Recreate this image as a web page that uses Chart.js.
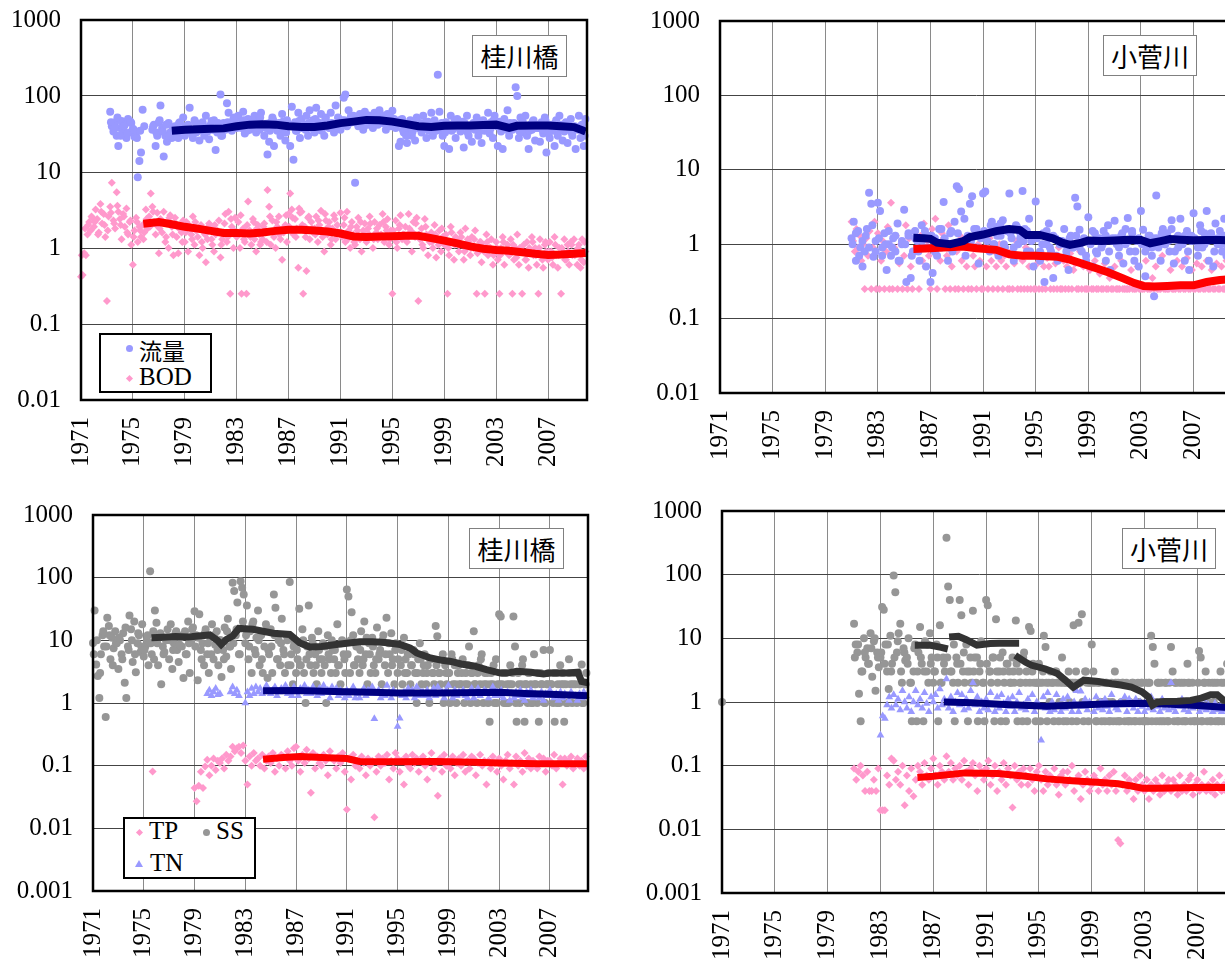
<!DOCTYPE html>
<html>
<head>
<meta charset="utf-8">
<script src="https://cdn.jsdelivr.net/npm/chart.js@4.4.1/dist/chart.umd.min.js"></script>
<style>
html, body { margin: 0; padding: 0; overflow: hidden; background: #fff; }
body { position: relative; width: 1225px; height: 959px; }
canvas { position: absolute; }
.site { position: absolute; z-index: 2; box-sizing: border-box; border: 1px solid #808080; background: #fff;
        font: 26px "Noto Sans CJK JP", sans-serif; color: #000; text-align: center; }
.legend { position: absolute; z-index: 2; box-sizing: border-box; border: 2px solid #000; background: #fff; }
.lab { position: absolute; z-index: 3; height: 30px; line-height: 30px; color: #000; white-space: nowrap; }
.serif { font: 25px "Liberation Serif", "Times New Roman", serif; }
.jp { font: 23px "Noto Sans CJK JP", sans-serif; }
.mk { position: absolute; z-index: 3; }
.dot { width: 7px; height: 7px; border-radius: 50%; }
.dia { width: 5px; height: 5px; transform: rotate(45deg); background: #ff99cc; }
.tri { width: 0; height: 0; border-left: 4px solid transparent; border-right: 4px solid transparent; border-bottom: 7px solid #9999ff; }
</style>
</head>
<body>
<canvas id="c1" width="600" height="480" style="left:0;top:0"></canvas>
<canvas id="c2" width="610" height="480" style="left:640px;top:0"></canvas>
<canvas id="c3" width="600" height="479" style="left:0;top:480px"></canvas>
<canvas id="c4" width="620" height="479" style="left:640px;top:480px"></canvas>

<div class="site" style="left:472px;top:35px;width:95px;height:42px;line-height:40px">桂川橋</div>
<div class="site" style="left:1103px;top:35px;width:94px;height:41px;line-height:39px">小菅川</div>
<div class="site" style="left:469px;top:528px;width:95px;height:41px;line-height:39px">桂川橋</div>
<div class="site" style="left:1122px;top:528px;width:94px;height:41px;line-height:39px">小菅川</div>

<div class="legend" style="left:99px;top:333px;width:113px;height:60px"></div>
<div class="mk dot" style="left:126px;top:345px;background:#9999ff"></div>
<div class="lab jp" style="left:139px;top:333px">流量</div>
<div class="mk dia" style="left:127px;top:376px"></div>
<div class="lab serif" style="left:139px;top:363px">BOD</div>

<div class="legend" style="left:123px;top:817px;width:133px;height:62px"></div>
<div class="mk dia" style="left:137px;top:830px"></div>
<div class="lab serif" style="left:149px;top:817px">TP</div>
<div class="mk dot" style="left:203px;top:829px;background:#969696"></div>
<div class="lab serif" style="left:216px;top:817px">SS</div>
<div class="mk tri" style="left:135px;top:860px"></div>
<div class="lab serif" style="left:150px;top:849px">TN</div>

<script>
// axis ticks
const yearTicks = [1971, 1975, 1979, 1983, 1987, 1991, 1995, 1999, 2003, 2007];
const decadesTop = [0.01, 0.1, 1, 10, 100, 1000];
const decadesBottom = [0.001, 0.01, 0.1, 1, 10, 100, 1000];

// 桂川橋 flow, 8 samples a year from 1973.25
const katsuraFlowStart = 1973.25;
const katsuraFlow = [
  62, 40, 34, 45, 30, 22, 38, 47,
  35, 42, 28, 50, 33, 44, 37, 29,
  33, 8.5, 14, 18, 66, 40, null, null,
  null, null, 36, 42, 22, 30, 45, 75,
  38, 16, 30, 25, 44, 33, 28, 36,
  40, 32, 28, 45, 36, 52, 30, 38,
  42, 70, 35, 28, 48, 33, 40, 26,
  38, 45, 30, 55, 34, 27, 42, 36,
  48, 19.5, 33, 40, 105, 30, 44, 36,
  80, 60, 42, 35, 50, 45, 38, 55,
  46, 38, 62, 32, 42, 50, 36, 45,
  40, 55, 33, 48, 36, 60, 42, 30,
  38, 17, 25, 45, 52, 22, 40, 35,
  44, 30, 58, 36, 26, 48, 40, 22,
  72, 14.5, 45, 35, 60, 28, 50, 38,
  42, 55, 30, 65, 38, 48, 33, 70,
  45, 36, 58, 40, 30, 52, 44, 38,
  60, 40, 33, 75, 42, 50, 36, 48,
  95, 105, 40, 65, 50, 45, 55, 7.2,
  48, 40, 58, 44, 36, 62, 50, 42,
  55, 46, 38, 60, 50, 42, 65, 48,
  44, 52, 36, 58, 47, 40, 64, 50,
  38, 45, 22, 25, 50, 33, 42, 24,
  36, 48, 30, 42, 26, 52, 38, 44,
  33, 55, 40, 28, 46, 36, 60, 30,
  48, 35, 190, 62, 42, 30, 22, 45,
  40, 20, 55, 36, 44, 28, 50, 38,
  34, 46, 21, 40, 55, 30, 38, 25,
  44, 36, 52, 30, 40, 24, 48, 35,
  38, 60, 32, 45, 28, 55, 42, 22,
  46, 34, 20, 50, 38, 65, 30, 42,
  36, 44, 130, 100, 28, 52, 40, 33,
  55, 30, 20, 42, 36, 48, 26, 40,
  38, 25, 45, 32, 52, 18, 40, 28,
  42, 35, 22, 48, 30, 55, 38, 26,
  34, 45, 24, 40, 50, 30, 36, 20,
  38, 55, 28, 42, 22, 50
];
// extra flow samples in between, 4 a year from 1973.31
const katsuraFlowExtraStart = 1973.31;
const katsuraFlowExtra = [
  45, 38, 52, 30,   40, 32, 46, 36,   28, 35, null, null,   null, 40, 33, 48,
  34, 42, 30, 38,   36, 44, 33, 40,   38, 31, 45, 35,   42, 34, 39, 47,
  36, 44, 30, 40,   45, 38, 52, 42,   40, 48, 35, 44,   46, 38, 52, 41,
  43, 35, 48, 39,   38, 46, 33, 42,   41, 35, 47, 38,   36, 44, 40, 50,
  42, 35, 48, 40,   44, 38, 52, 46,   48, 42, 55, 46,   52, 45, 40, 56,
  47, 53, 44, 58,   50, 43, 55, 46,   42, 48, 36, 30,   40, 34, 46, 38,
  38, 45, 35, 42,   40, 36, 44, 33,   42, 35, 47, 39,   38, 44, 33, 41,
  40, 46, 35, 43,   43, 37, 48, 40,   41, 46, 36, 44,   37, 42, 34, 45,
  40, 35, 46, 38,   42, 36, 47, 33,   39, 44, 35, 42,   37, 43, 33, 40,
  36, 41, 30
];

// 桂川橋 BOD, 8 samples a year from 1971
const katsuraBodStart = 1971;
const katsuraBod = [
  0.42, 0.44, 0.85, 0.8, 1.5, 2.2, 1.7, 2.5,
  1.9, 3.2, 2.4, 1.6, 3.8, 2.1, 2.8, 1.4,
  0.2, 2.6, 3.5, 7.2, 2.3, 1.8, 5.4, 3.0,
  2.4, 1.3, 2.8, 1.9, 3.3, 1.5, 2.2, 1.1,
  0.6, 1.7, 2.5, 1.2, 1.9, 1.4, 2.0, 1.6,
  3.2, 1.8, 2.6, 5.2, 3.5, 2.2, 1.5, 2.9,
  0.85, 2.4, 1.6, 3.0, 1.2, 2.1, 1.0, 2.7,
  1.9, 0.8, 2.5, 1.4, 0.85, 2.0, 1.6, 2.3,
  1.2, 2.2, 0.9, 1.8, 1.5, 2.6, 1.1, 1.7,
  1.4, 0.8, 2.0, 1.0, 1.6, 0.65, 1.3, 2.1,
  1.9, 1.1, 0.9, 1.5, 1.7, 2.3, 0.75, 1.3,
  1.6, 2.8, 1.2, 3.0, 0.25, 1.9, 1.0, 2.5,
  1.4, 2.2, 1.0, 0.25, 1.8, 1.2, 0.25, 4.1,
  1.7, 1.1, 2.4, 1.3, 0.9, 2.0, 1.5, 1.2,
  1.3, 2.1, 1.6, 5.8, 3.5, 1.1, 2.3, 1.4,
  1.0, 1.9, 2.6, 1.3, 0.7, 1.6, 2.0, 1.2,
  2.8, 5.2, 3.2, 1.5, 2.4, 1.8, 0.55, 2.9,
  3.0, 0.25, 1.9, 0.5, 2.5, 1.3, 2.2, 1.6,
  1.8, 2.6, 1.2, 2.0, 3.1, 1.4, 0.9, 2.3,
  1.5, 2.2, 1.1, 1.8, 2.7, 1.3, 2.0, 1.6,
  2.9, 1.4, 2.0, 1.2, 3.0, 1.7, 1.0, 2.2,
  1.5, 1.1, 1.9, 2.5, 1.3, 0.9, 1.7, 2.1,
  1.2, 1.8, 2.6, 1.4, 1.0, 2.2, 1.6, 1.3,
  2.0, 1.5, 2.8, 1.2, 1.9, 2.4, 1.1, 1.7,
  0.25, 1.4, 2.3, 1.0, 1.8, 2.7, 1.3, 1.5,
  1.9, 1.2, 2.8, 1.6, 0.9, 2.2, 1.4, 2.5,
  0.2, 1.3, 1.8, 1.0, 2.4, 1.5, 0.8, 1.2,
  1.6, 1.0, 2.0, 0.75, 1.3, 1.7, 0.9, 1.4,
  1.1, 1.5, 0.25, 0.8, 1.9, 1.2, 0.7, 1.4,
  1.3, 0.9, 1.6, 1.1, 0.7, 1.8, 1.0, 1.2,
  0.8, 1.4, 1.0, 1.7, 0.25, 0.9, 1.2, 0.65,
  1.1, 0.25, 1.5, 0.8, 1.0, 1.3, 0.6, 0.9,
  1.2, 0.7, 0.25, 1.0, 1.4, 0.6, 0.9, 1.1,
  0.8, 1.3, 0.25, 0.7, 1.0, 1.5, 0.6, 0.9,
  0.25, 1.1, 0.7, 1.2, 0.55, 0.9, 1.4, 0.8,
  1.0, 0.6, 0.25, 1.3, 0.8, 0.55, 1.1, 0.9,
  0.7, 1.2, 0.9, 0.6, 1.4, 0.8, 0.55, 1.0,
  0.25, 0.9, 1.3, 0.7, 1.1, 0.6, 1.2, 0.8,
  1.3, 0.9, 0.6, 1.1, 0.55, 1.3, 0.65, 0.9
];
// extra BOD samples in between, 4 a year from 1971.06
const katsuraBodExtraStart = 1971.06;
const katsuraBodExtra = [
  0.8, 1.8, 2.0, 2.6,   2.2, 1.5, 3.0, 2.0,   1.7, 2.9, 2.1, 3.6,   2.0, 2.6, 1.6, 2.3,
  1.4, 2.2, 1.7, 1.3,   2.4, 1.9, 3.0, 2.0,   1.8, 2.2, 1.4, 2.5,   1.5, 2.1, 1.8, 1.2,
  1.6, 2.0, 1.3, 2.2,   1.8, 1.2, 1.5, 1.9,   1.3, 2.0, 1.6, 1.1,   2.1, 1.4, 2.4, 1.7,
  1.6, 2.7, 1.3, 2.0,   1.4, 2.2, 1.8, 1.1,   1.9, 1.2, 2.6, 1.6,   2.2, 1.5, 1.8, 2.7,
  1.9, 2.5, 1.4, 3.3,   2.0, 1.4, 2.6, 1.8,   1.5, 2.3, 1.7, 2.8,   1.9, 1.3, 2.4, 1.6,
  1.6, 2.5, 1.3, 1.9,   1.2, 1.7, 2.2, 1.4,   1.6, 2.1, 1.3, 1.8,   1.4, 2.2, 1.7, 1.3,
  1.7, 1.2, 2.0, 1.5,   1.3, 1.8, 1.6, 2.1,   1.5, 1.1, 1.9, 1.4,   1.2, 1.5, 1.1, 1.8,
  1.3, 1.0, 1.6, 1.1,   1.1, 1.4, 0.9, 1.3,   1.0, 1.3, 0.85, 1.2,  0.9, 1.2, 1.0, 0.8,
  1.0, 0.8, 1.2, 0.9,   0.85, 1.1, 0.75, 1.0, 0.9, 0.7, 1.0, 1.2,   0.8, 1.0, 0.7, 1.2,
  0.9, 0.75, 1.1, 0.8,  1.0, 0.7, 0.9, 1.1,   0.8, 1.0, 0.7, 1.2
];

// 桂川橋 running trends [year, value]
const katsuraFlowTrend = [[1978, 35], [1979, 36], [1980, 36.5], [1981, 37], [1982, 37.5], [1983, 40], [1984, 42],
  [1985, 42.5], [1986, 42], [1987, 40], [1988, 39], [1989, 39], [1990, 41], [1991, 44], [1992, 46], [1993, 48.5],
  [1994, 48], [1995, 46], [1996, 43], [1997, 40], [1998, 39], [1999, 40.5], [2000, 41], [2001, 41], [2002, 41.5],
  [2003, 42], [2004, 38], [2004.6, 40.5], [2006, 41], [2007, 41], [2008, 40], [2009, 39], [2009.9, 34]];
const katsuraBodTrend = [[1975.8, 2.08], [1977, 2.2], [1978, 2.05], [1979, 1.9], [1980, 1.8], [1981, 1.68], [1982, 1.58],
  [1983, 1.57], [1984, 1.55], [1985, 1.6], [1986, 1.68], [1987, 1.74], [1988, 1.74], [1989, 1.7], [1990, 1.65],
  [1991, 1.55], [1992, 1.42], [1993, 1.4], [1994, 1.42], [1995, 1.43], [1996, 1.45], [1997, 1.45], [1998, 1.35],
  [1999, 1.25], [2000, 1.15], [2001, 1.05], [2002, 0.98], [2003, 0.94], [2004, 0.92], [2005, 0.88], [2006, 0.84],
  [2007, 0.81], [2008, 0.82], [2009, 0.84], [2009.9, 0.86]];

// 小菅川 flow, 6 samples a year from 1981
const kosugeFlowStart = 1981;
const kosugeFlow = [
  1.2, 2.0, 0.6, 1.5, 0.9, 0.5,
  0.8, 1.6, 4.9, 3.5, 0.68, 1.1,
  3.6, 2.8, 0.9, 1.4, 0.45, 1.0,
  0.7, 1.2, 0.8, 1.9, 0.6, 1.0,
  2.9, 0.31, 1.3, 0.35, 0.8, 1.5,
  1.1, 0.6, 1.8, 0.9, 0.5, 1.3,
  0.31, 0.41, 1.2, 0.7, 1.6, 0.9,
  3.7, 1.0, 0.6, 1.4, 0.8, 2.0,
  6.0, 5.5, 2.75, 1.1, 0.7, 1.3,
  3.5, 4.4, 0.9, 1.6, 0.55, 1.2,
  4.8, 5.1, 1.4, 0.8, 2.0, 1.0,
  1.7, 0.7, 1.3, 2.1, 0.9, 1.5,
  4.8, 1.2, 0.6, 1.8, 1.0, 1.4,
  5.2, 1.6, 0.8, 2.2, 1.1, 0.5,
  3.75, 1.3, 0.6, 1.0, 0.31, 1.5,
  1.9, 0.8, 0.35, 1.2, 0.6, 1.0,
  1.1, 1.6, 0.7, 0.45, 1.3, 0.9,
  4.2, 3.2, 1.56, 0.8, 1.2, 0.6,
  2.3, 1.0, 0.5, 1.4, 0.75, 1.1,
  0.9, 1.5, 0.6, 1.8, 0.45, 1.2,
  2.06, 1.0, 0.7, 1.3, 0.55, 1.6,
  2.25, 0.8, 1.4, 0.6, 1.1, 0.5,
  2.8, 1.56, 0.37, 0.9, 1.3, 0.7,
  0.2, 4.5, 1.2, 0.6, 1.6, 1.0,
  1.4, 0.8, 2.1, 0.55, 1.2, 0.9,
  2.2, 1.0, 0.6, 1.5, 0.45, 1.3,
  2.6, 1.1, 0.7, 1.8, 0.9, 1.4,
  2.8, 0.6, 1.3, 0.5, 1.9, 1.0,
  1.5, 0.8, 2.2, 0.7, 1.2, 0.9
];
// extra flow samples in between, 4 a year from 1981.08
const kosugeFlowExtraStart = 1981.08;
const kosugeFlowExtra = [
  1.0, 1.4, 0.7, 1.1,   1.3, 0.9, 1.8, 0.8,   1.2, 0.7, 1.0, 1.5,   0.9, 1.3, 0.6, 1.1,
  1.0, 1.4, 0.7, 1.2,   0.8, 1.1, 1.5, 0.9,   1.3, 0.8, 1.0, 1.6,   1.2, 0.9, 1.5, 1.0,
  1.4, 1.0, 2.2, 1.2,   1.1, 1.6, 0.9, 1.3,   1.5, 1.1, 1.8, 1.0,   1.3, 1.9, 1.0, 1.6,
  1.4, 0.9, 1.7, 1.2,   1.1, 1.5, 0.8, 1.3,   1.2, 0.8, 1.4, 1.0,   0.9, 1.3, 0.7, 1.1,
  1.0, 0.8, 1.2, 0.9,   1.3, 0.9, 1.1, 0.7,   1.1, 1.5, 0.8, 1.2,   1.0, 1.3, 0.8, 1.1,
  1.2, 0.9, 1.4, 1.0,   1.1, 1.5, 0.8, 1.2,   1.0, 0.8, 1.3, 0.9,   1.2, 0.9, 1.4, 1.0,
  1.1, 1.6, 0.8, 1.3,   1.0, 1.3, 0.8, 1.1,   1.2, 0.9, 1.5, 1.0,   1.1, 1.4, 0.8, 1.2,
  1.0, 1.3, 0.9, 1.1
];

// 小菅川 BOD, 8 samples a year from 1981 (0.25 = below limit)
const kosugeBodStart = 1981;
const kosugeBod = [
  2.0, 1.1, 0.8, 1.6, 0.9, 1.3, 0.6, 1.0,
  0.25, 1.2, 0.7, 1.5, 0.25, 0.9, 2.0, 0.25,
  1.4, 0.25, 0.6, 1.1, 0.25, 0.8, 1.7, 0.25,
  3.6, 0.25, 0.9, 1.3, 0.25, 0.55, 1.0, 0.25,
  0.7, 1.8, 0.25, 1.2, 0.5, 0.25, 1.5, 0.8,
  0.9, 0.25, 1.3, 0.6, 1.9, 0.5, 1.1, 0.7,
  0.25, 1.6, 0.8, 2.2, 0.25, 1.0, 0.6, 1.4,
  1.2, 0.25, 0.7, 1.8, 0.25, 0.5, 1.0, 0.25,
  0.8, 0.25, 1.3, 0.6, 0.25, 0.9, 0.5, 0.25,
  1.1, 0.25, 0.7, 0.5, 0.25, 1.0, 0.6, 0.25,
  0.25, 0.9, 0.5, 0.25, 1.2, 0.6, 0.25, 0.8,
  0.5, 0.25, 1.0, 0.6, 0.25, 0.7, 0.5, 0.25,
  0.25, 0.8, 0.25, 0.55, 1.1, 0.25, 0.7, 0.25,
  0.6, 0.25, 0.9, 0.25, 0.5, 0.25, 0.75, 0.25,
  0.25, 0.55, 0.25, 0.8, 0.25, 0.5, 0.25, 0.65,
  0.5, 0.25, 0.7, 0.25, 0.55, 0.25, 0.9, 0.25,
  0.25, 0.6, 0.25, 0.5, 0.25, 0.75, 0.25, 0.45,
  0.55, 0.25, 0.25, 0.8, 0.25, 0.5, 0.25, 0.25,
  0.25, 0.45, 0.25, 0.25, 0.6, 0.25, 0.25, 0.4,
  0.25, 0.25, 0.55, 0.25, 0.25, 0.35, 0.25, 0.25,
  0.5, 0.25, 0.25, 0.25, 0.6, 0.25, 0.25, 0.25,
  0.25, 0.25, 0.45, 0.25, 0.25, 0.25, 0.5, 0.25,
  0.25, 0.25, 0.25, 0.6, 0.25, 0.25, 0.25, 0.35,
  0.25, 0.5, 0.25, 0.25, 0.25, 0.7, 0.25, 0.25,
  0.25, 0.25, 0.45, 0.25, 0.25, 0.25, 0.6, 0.25,
  0.25, 0.5, 0.25, 0.25, 0.65, 0.25, 0.25, 0.45,
  0.25, 0.25, 0.55, 0.25, 0.25, 0.5, 0.25, 0.25,
  0.6, 0.25, 0.25, 0.45, 0.25, 0.25, 0.55, 0.25,
  0.25, 0.5, 0.25, 0.25, 0.6, 0.25, 0.25, 0.45
];

const kosugeFlowTrend = [[1985.7, 1.22], [1986.5, 1.2], [1987, 1.18], [1987.5, 1.05], [1988.5, 1.0], [1989.5, 1.1],
  [1990, 1.25], [1991, 1.35], [1992, 1.5], [1993, 1.6], [1993.8, 1.55], [1994.3, 1.33], [1995.3, 1.33], [1996.3, 1.2],
  [1997, 1.05], [1997.6, 0.98], [1998.5, 1.05], [1999, 1.12], [2000, 1.1], [2001, 1.12], [2002, 1.15], [2003, 1.14],
  [2003.7, 1.03], [2004.5, 1.1], [2005.2, 1.17], [2006, 1.15], [2007, 1.13], [2008, 1.14], [2009, 1.14], [2010, 1.12]];
const kosugeBodTrend = [[1985.7, 0.86], [1987, 0.88], [1988, 0.9], [1989.5, 0.93], [1990.5, 0.88], [1992, 0.84],
  [1993, 0.73], [1994, 0.7], [1995, 0.7], [1996.6, 0.68], [1997.6, 0.62], [1998.5, 0.55], [1999.6, 0.475],
  [2000.5, 0.42], [2001.6, 0.35], [2002.5, 0.3], [2003.2, 0.275], [2004, 0.27], [2005, 0.275], [2006, 0.28],
  [2007, 0.28], [2008, 0.31], [2009, 0.33], [2010, 0.34]];

// 桂川橋 SS, 8 samples a year from 1971
const katsuraSSStart = 1971;
const katsuraSS = [
  9.1, 30, 4.1, 2.7, 1.2, 6.0, 12, 8.0,
  0.6, 23, 17, 5.0, 11, 7.5, 14, 9.0,
  3.5, 10, 6.0, 13, 2.1, 1.2, 8.0, 25,
  15, 4.5, 20, 3.1, 9.0, 12, 6.5, 18,
  5.5, 8.0, 10, 4.0, 127, 6.0, 14, 30,
  19, 4.0, 12, 2.0, 8.0, 6.5, 10, 15,
  5.0, 18, 3.5, 9.0, 13, 7.0, 4.5, 11,
  8.0, 2.5, 14, 6.0, 20, 3.0, 10, 16,
  29, 12, 2.3, 26, 7.0, 9.0, 4.0, 15,
  6.0, 3.0, 11, 18, 5.0, 8.5, 14, 4.0,
  10, 2.6, 7.0, 16, 5.5, 22, 8.0, 3.5,
  83, 61, 12, 40, 6.0, 88, 69, 54,
  9.0, 36, 5.0, 14, 3.0, 20, 7.0, 11,
  30, 4.0, 12, 3.0, 8.0, 18, 2.5, 6.0,
  15, 3.0, 54, 33, 5.0, 10, 4.0, 22,
  7.0, 3.0, 12, 4.0, 85, 6.0, 2.0, 9.0,
  3.0, 5.0, 32, 4.0, 15, 3.0, 1.0, 8.0,
  36, 4.0, 11, 3.0, 6.0, 2.0, 14, 5.0,
  3.0, 9.0, 4.0, 1.0, 12, 5.0, 3.0, 7.0,
  5.0, 3.0, 18, 4.0, 2.0, 10, 6.0, 3.0,
  65, 50, 3.0, 28, 12, 4.0, 8.0, 5.0,
  3.0, 14, 4.0, 20, 6.0, 2.0, 9.0, 3.0,
  11, 4.0, 3.0, 16, 5.0, 7.0, 2.0, 12,
  4.0, 23, 3.0, 6.0, 13, 5.0, 2.0, 9.0,
  3.0, 8.0, 4.0, 2.0, 11, 5.0, 3.0, 6.0,
  2.0, 4.0, 7.0, 3.0, 1.0, 5.0, 9.0, 2.0,
  3.0, 6.0, 2.0, 4.0, 1.0, 5.0, 3.0, 2.0,
  17, 11.6, 3.0, 2.0, 5.0, 1.0, 4.0, 2.0,
  3.0, 1.0, 6.0, 2.0, 4.0, 1.0, 3.0, 2.0,
  2.0, 5.0, 1.0, 3.0, 2.0, 8.0, 1.0, 3.0,
  14, 2.0, 1.0, 4.0, 2.0, 6.0, 1.0, 3.0,
  2.0, 1.0, 0.5, 3.0, 2.0, 1.0, 5.0, 2.0,
  26, 24, 2.0, 1.0, 3.0, 2.0, 1.0, 4.0,
  2.0, 24, 8.0, 0.5, 3.0, 1.0, 2.0, 5.0,
  0.5, 2.0, 1.0, 3.0, 2.0, 1.0, 6.0, 2.0,
  1.0, 0.5, 3.0, 2.0, 7.0, 1.0, 2.0, 3.0,
  7.0, 2.0, 1.0, 0.5, 3.0, 2.0, 1.0, 2.0,
  3.0, 0.5, 2.0, 1.0, 5.0, 2.0, 1.0, 3.0,
  2.0, 1.0, 3.0, 2.0, 4.1, 1.0, 2.0, 3.0
];
// extra SS samples in between, 4 a year from 1971.06
const katsuraSSExtraStart = 1971.06;
const katsuraSSExtra = [
  6.0, 10, 3.0, 14,   8.0, 12, 4.0, 9.0,   11, 5.0, 16, 7.0,   10, 6.0, 13, 8.0,
  7.0, 12, 9.0, 5.0,  9.0, 13, 6.0, 11,    10, 7.0, 14, 8.5,   12, 6.0, 9.0, 15,
  8.0, 11, 5.0, 13,   9.0, 6.0, 12, 7.0,   10, 5.0, 14, 8.0,   9.0, 15, 6.0, 20,
  12, 8.0, 18, 6.0,   10, 5.0, 14, 7.0,    8.0, 12, 5.0, 9.0,  6.0, 10, 4.0, 8.0,
  7.0, 4.0, 10, 5.0,  6.0, 9.0, 4.0, 7.0,  5.0, 8.0, 6.0, 10,  7.0, 4.0, 9.0, 5.0,
  6.0, 10, 4.0, 8.0,  7.0, 5.0, 11, 6.0,   8.0, 5.0, 6.0, 10,  6.0, 9.0, 4.0, 7.0,
  5.0, 7.0, 3.0, 6.0, 4.0, 6.0, 3.0, 5.0,  4.0, 3.0, 5.0, 3.0, 4.0, 3.0, 6.0, 3.0,
  3.0, 5.0, 2.0, 4.0, 3.0, 2.0, 4.0, 3.0,  2.0, 3.0, 5.0, 2.0, 3.0, 2.0, 4.0, 1.0,
  2.0, 3.0, 1.0, 2.0, 3.0, 1.0, 2.0, 4.0,  2.0, 3.0, 1.0, 2.0, 3.0, 2.0, 1.0, 2.0,
  2.0, 3.0, 1.0, 4.0, 2.0, 1.0, 3.0, 2.0,  3.0, 2.0, 1.0, 2.0
];

// 桂川橋 TN, 6 samples a year from 1980
const katsuraTNStart = 1980;
const katsuraTN = [
  1.4, 1.6, 1.3, 1.5, 1.7, 1.35,
  1.4, null, null, null, null, 1.5,
  1.8, 1.4, 1.6, 1.3, null, null,
  1.0, 1.5, 1.3, 1.7, 1.4, 1.8,
  1.5, 1.7, 1.4, 1.6, 1.9, 1.5,
  1.4, 1.6, 1.8, 1.3, 1.5, 1.7,
  1.6, 1.9, 1.4, 1.5, 1.3, 1.8,
  1.5, 1.3, 1.7, 1.6, 1.9, 1.4,
  1.6, 1.4, 1.8, 1.5, 1.3, 1.7,
  1.4, 1.9, 1.5, 1.6, 1.2, 1.8,
  1.5, 1.7, 1.3, 1.6, 1.4, 1.2,
  1.6, 1.3, 1.5, 1.8, 1.2, 1.4,
  1.2, 1.5, 1.7, 1.3, 1.6, 1.4,
  1.8, 0.56, 1.4, 1.6, 1.2, 1.5,
  1.3, 1.9, 1.5, 1.2, 1.6, 1.4,
  0.42, 0.57, 1.3, 1.5, 1.2, 1.7,
  1.4, 1.6, 1.2, 1.8, 1.3, 1.5,
  1.5, 1.3, 1.6, 1.2, 1.4, 1.7,
  1.3, 1.8, 1.4, 1.5, 1.2, 1.6,
  1.9, 1.4, 1.2, 1.6, 1.3, 1.5,
  1.4, 1.6, 1.3, 1.2, 1.5, 1.7,
  1.2, 1.5, 1.7, 1.3, 1.4, 1.6,
  1.5, 1.2, 1.4, 1.8, 1.3, 1.5,
  1.3, 1.6, 1.2, 1.4, 1.5, 1.1,
  1.4, 1.2, 1.5, 1.3, 1.6, 1.2,
  1.1, 1.5, 1.3, 1.6, 1.2, 1.4,
  1.3, 1.2, 1.5, 1.1, 1.4, 1.3,
  1.6, 1.3, 1.2, 1.4, 1.1, 1.5,
  1.2, 1.4, 1.3, 1.1, 1.5, 1.3,
  1.3, 1.1, 1.4, 1.2, 1.5, 1.3
];

// 桂川橋 TP, 6 samples a year from 1979, plus one early sample
const katsuraTPEarly = [[1975.7, 0.081]];
const katsuraTPStart = 1979;
const katsuraTP = [
  0.044, 0.027, 0.048, 0.08, 0.044, 0.097,
  0.124, 0.07, 0.1, 0.13, 0.085, 0.12,
  0.11, 0.13, 0.09, 0.15, 0.12, 0.14,
  0.2, 0.17, 0.19, 0.2, 0.16, 0.21,
  0.12, 0.05, 0.14, 0.1, 0.16, 0.12,
  0.13, 0.1, 0.15, 0.09, 0.12, 0.14,
  0.11, 0.16, 0.08, 0.13, 0.1, 0.15,
  0.14, 0.09, 0.17, 0.12, 0.1, 0.19,
  0.2, 0.12, 0.08, 0.15, 0.11, 0.18,
  0.13, 0.037, 0.16, 0.09, 0.14, 0.11,
  0.1, 0.15, 0.12, 0.07, 0.17, 0.13,
  0.12, 0.09, 0.14, 0.11, 0.16, 0.08,
  0.02, 0.13, 0.06, 0.15, 0.1, 0.12,
  0.09, 0.14, 0.11, 0.07, 0.13, 0.1,
  0.12, 0.015, 0.08, 0.14, 0.1, 0.13,
  0.11, 0.15, 0.06, 0.12, 0.09, 0.16,
  0.13, 0.08, 0.12, 0.05, 0.14, 0.1,
  0.09, 0.15, 0.11, 0.13, 0.08, 0.12,
  0.14, 0.1, 0.06, 0.12, 0.16, 0.09,
  0.11, 0.033, 0.13, 0.08, 0.15, 0.1,
  0.12, 0.09, 0.14, 0.07, 0.11, 0.13,
  0.1, 0.15, 0.08, 0.12, 0.09, 0.14,
  0.13, 0.07, 0.11, 0.15, 0.1, 0.12,
  0.05, 0.12, 0.09, 0.14, 0.11, 0.08,
  0.13, 0.1, 0.06, 0.12, 0.15, 0.09,
  0.11, 0.05, 0.14, 0.1, 0.12, 0.08,
  0.16, 0.1, 0.13, 0.09, 0.12, 0.11,
  0.09, 0.14, 0.11, 0.13, 0.08, 0.12,
  0.12, 0.1, 0.15, 0.09, 0.11, 0.13,
  0.05, 0.13, 0.1, 0.12, 0.14, 0.09,
  0.11, 0.13, 0.1, 0.12, 0.09, 0.14
];

const katsuraSSTrend = [[1975.6, 11], [1976.5, 11.2], [1977.5, 11.5], [1978.5, 11.3], [1979.5, 11.8], [1980.2, 12.2],
  [1980.8, 10], [1981.1, 8.6], [1981.5, 10.3], [1982, 11.7], [1982.5, 15.5], [1983.6, 15], [1985.2, 13],
  [1986.5, 12.4], [1987.3, 9.1], [1988.1, 7.8], [1989, 8], [1990, 8.5], [1991, 9], [1992, 9.5], [1993, 9.5],
  [1994, 9.2], [1995.2, 8.6], [1996, 7.5], [1996.5, 6.3], [1997.5, 5.3], [1998.5, 4.8], [1999.2, 4.6], [2000, 4.2],
  [2001, 3.9], [2002, 3.4], [2003.1, 3.0], [2003.6, 3.0], [2004.4, 3.2], [2005.5, 3.1], [2006.5, 2.9], [2007, 3.0],
  [2008.4, 3.0], [2009.2, 3.1], [2009.5, 2.2], [2010, 2.1]];
const katsuraTNTrend = [[1984.4, 1.57], [1987, 1.58], [1990, 1.52], [1993, 1.48], [1995, 1.45], [1998, 1.45],
  [2000, 1.46], [2003, 1.48], [2005, 1.42], [2007, 1.38], [2009, 1.33], [2010, 1.31]];
const katsuraTPTrend = [[1984.4, 0.127], [1986, 0.135], [1987.3, 0.14], [1989, 0.135], [1991, 0.13], [1992, 0.117],
  [1995, 0.115], [1998, 0.117], [2001, 0.113], [2003, 0.11], [2006, 0.107], [2010, 0.107]];

// 小菅川 SS, 8 samples a year from 1981, plus one 1971 sample
const kosugeSSEarly = [[1971, 1.0]];
const kosugeSSStart = 1981;
const kosugeSS = [
  17, 8.0, 6.0, 1.35, 0.5, 3.0, 10, 5.0,
  7.0, 4.0, 12, 2.5, 9.0, 1.5, 6.0, 3.5,
  5.0, 31, 28, 8.0, 3.0, 1.6, 11, 4.0,
  97, 53, 6.0, 12, 17, 2.0, 7.0, 4.5,
  5.0, 10, 2.0, 0.5, 3.0, 8.0, 0.5, 6.0,
  15, 4.0, 0.5, 9.0, 3.0, 2.0, 12, 5.0,
  2.0, 3.0, 8.0, 0.5, 16, 2.0, 5.0, 3.0,
  380, 65, 40, 3.0, 2.0, 0.5, 5.0, 2.0,
  40, 23, 3.0, 2.0, 8.0, 0.5, 3.0, 2.0,
  27, 5.0, 2.0, 0.5, 3.0, 9.0, 2.0, 0.5,
  40, 33, 3.0, 2.0, 5.0, 0.5, 20, 2.0,
  3.0, 0.5, 6.0, 2.0, 0.5, 4.0, 3.0, 2.0,
  5.0, 2.0, 19, 0.5, 3.0, 2.0, 0.5, 6.0,
  2.0, 0.5, 15, 13, 3.0, 2.0, 0.5, 2.0,
  4.0, 0.5, 2.0, 11, 7.3, 0.5, 2.0, 3.0,
  2.0, 0.5, 3.0, 2.0, 0.5, 2.0, 5.0, 0.5,
  2.0, 0.5, 3.0, 2.0, 0.5, 16, 2.0, 0.5,
  17.5, 2.0, 24, 0.5, 3.0, 2.0, 0.5, 2.0,
  8.0, 3.0, 2.0, 0.5, 2.0, 1.0, 0.5, 2.0,
  0.5, 2.0, 1.0, 0.5, 2.0, 0.5, 3.0, 0.5,
  2.0, 0.5, 1.0, 2.0, 0.5, 2.0, 0.5, 1.0,
  0.5, 2.0, 0.5, 1.0, 2.0, 0.5, 2.0, 0.5,
  0.5, 2.0, 0.5, 2.0, 11, 7.3, 4.0, 0.5,
  2.0, 0.5, 2.0, 1.0, 0.5, 2.0, 0.5, 2.0,
  7.3, 3.0, 0.5, 2.0, 0.5, 2.0, 1.0, 0.5,
  2.0, 0.5, 4.0, 2.0, 0.5, 2.0, 0.5, 1.0,
  0.5, 6.3, 5.0, 0.5, 2.0, 3.0, 0.5, 2.0,
  0.5, 2.0, 1.0, 0.5, 2.0, 0.5, 3.0, 0.5,
  2.0, 0.5, 4.0, 0.5, 2.0, 1.0, 0.5, 2.0
];
// extra SS samples in between, 4 a year from 1981.06
const kosugeSSExtraStart = 1981.06;
const kosugeSSExtra = [
  5.0, 8.0, 3.0, 6.0,  4.0, 7.0, 10, 5.0,   6.0, 4.0, 8.0, 3.0,  5.0, 9.0, 3.0, 6.0,
  4.0, 2.0, 7.0, 3.0,  5.0, 3.0, 8.0, 4.0,  3.0, 5.0, 2.0, 4.0,  5.0, 3.0, 8.0, 4.0,
  4.0, 6.0, 3.0, 5.0,  3.0, 5.0, 4.0, 2.0,  4.0, 3.0, 5.0, 3.0,  5.0, 3.0, 4.0, 2.0,
  3.0, 4.0, 2.0, 5.0,  3.0, 2.0, 4.0, 2.0,  2.0, 3.0, 2.0, 1.0,  2.0, 3.0, 1.0, 2.0,
  2.0, 1.0, 2.0, 3.0,  2.0, 1.0, 3.0, 2.0,  2.0, 0.5, 2.0, 1.0,  2.0, 0.5, 1.0, 2.0,
  0.5, 2.0, 1.0, 0.5,  2.0, 0.5, 1.0, 2.0,  0.5, 2.0, 0.5, 1.0,  2.0, 0.5, 2.0, 0.5,
  1.0, 2.0, 0.5, 2.0,  0.5, 2.0, 1.0, 0.5,  2.0, 0.5, 2.0, 1.0,  0.5, 2.0, 0.5, 2.0,
  1.0, 0.5, 2.0, 0.5
];

// 小菅川 TN, 6 samples a year from 1983
const kosugeTNStart = 1983;
const kosugeTN = [
  0.3, 0.6, 0.55, 0.9, 1.2, 0.8,
  1.3, 0.9, 1.1, 0.75, 1.5, 1.0,
  0.8, 1.2, 0.7, 1.0, 1.5, 0.9,
  1.1, 0.8, 1.4, 0.95, 0.7, 1.2,
  1.0, 1.3, 0.8, 1.6, 0.9, 1.1,
  2.3, 0.8, 1.2, 0.7, 1.0, 1.4,
  0.9, 1.3, 0.75, 1.1, 0.8, 1.5,
  2.0, 0.9, 1.2, 0.7, 1.0, 0.8,
  1.1, 0.75, 1.4, 0.9, 0.7, 1.2,
  0.8, 1.3, 0.95, 0.7, 1.1, 0.85,
  1.2, 0.7, 1.0, 1.4, 0.8, 0.9,
  0.75, 1.1, 0.85, 1.3, 0.7, 1.0,
  0.9, 0.25, 1.2, 0.8, 1.4, 0.7,
  1.0, 0.75, 1.3, 0.85, 0.7, 1.1,
  0.8, 1.2, 0.9, 0.7, 1.0, 1.5,
  0.7, 1.47, 0.85, 1.1, 0.75, 1.0,
  0.9, 0.7, 1.2, 0.8, 1.0, 0.75,
  1.1, 0.85, 0.7, 1.3, 0.9, 0.8,
  0.75, 1.0, 0.9, 1.2, 0.7, 1.1,
  0.9, 0.8, 1.1, 0.7, 1.0, 0.85,
  0.7, 1.0, 0.8, 1.2, 0.75, 0.9,
  0.85, 0.7, 1.1, 0.8, 0.95, 0.75,
  2.0, 0.8, 0.7, 1.0, 0.85, 1.1,
  0.75, 0.9, 0.7, 1.0, 0.8, 0.85,
  0.9, 0.7, 0.8, 1.1, 0.75, 0.9,
  0.8, 0.7, 0.95, 0.75, 0.85, 0.7,
  0.75, 0.85, 0.7, 0.9, 0.8, 0.75
];

// 小菅川 TP, 6 samples a year from 1981
const kosugeTPStart = 1981;
const kosugeTP = [
  0.09, 0.06, 0.08, 0.1, 0.07, 0.04,
  0.08, 0.04, 0.04, 0.06, 0.04, 0.09,
  0.02, 0.02, 0.02, 0.07, 0.05, 0.13,
  0.12, 0.06, 0.08, 0.05, 0.1, 0.024,
  0.07, 0.04, 0.09, 0.033, 0.06, 0.1,
  0.08, 0.05, 0.11, 0.07, 0.06, 0.09,
  0.13, 0.07, 0.05, 0.1, 0.08, 0.06,
  0.14, 0.08, 0.11, 0.06, 0.09, 0.07,
  0.1, 0.06, 0.12, 0.08, 0.05, 0.09,
  0.11, 0.07, 0.04, 0.1, 0.08, 0.06,
  0.09, 0.12, 0.05, 0.07, 0.1, 0.04,
  0.08, 0.06, 0.11, 0.05, 0.09, 0.07,
  0.022, 0.1, 0.06, 0.08, 0.05, 0.09,
  0.07, 0.05, 0.09, 0.06, 0.04, 0.08,
  0.1, 0.06, 0.04, 0.08, 0.05, 0.07,
  0.06, 0.09, 0.05, 0.035, 0.07, 0.08,
  0.05, 0.08, 0.06, 0.1, 0.04, 0.06,
  0.07, 0.03, 0.05, 0.08, 0.06, 0.04,
  0.05, 0.07, 0.06, 0.04, 0.09, 0.05,
  0.06, 0.04, 0.07, 0.05, 0.08, 0.04,
  0.0068, 0.006, 0.05, 0.07, 0.04, 0.06,
  0.05, 0.03, 0.06, 0.04, 0.07, 0.05,
  0.04, 0.06, 0.03, 0.05, 0.04, 0.06,
  0.05, 0.035, 0.07, 0.04, 0.05, 0.06,
  0.04, 0.06, 0.05, 0.035, 0.07, 0.04,
  0.05, 0.04, 0.06, 0.07, 0.035, 0.05,
  0.06, 0.04, 0.05, 0.08, 0.04, 0.05,
  0.04, 0.06, 0.035, 0.05, 0.07, 0.04,
  0.05, 0.04, 0.06, 0.035, 0.05, 0.07
];

// [year, null] breaks the line
const kosugeSSTrend = [[1985.6, 7.8], [1986.8, 7.8], [1987.6, 7.2], [1988.1, 6.8], [1988.1, null],
  [1988.2, 10.5], [1988.9, 10.8], [1989.5, 9.5], [1990.3, 7.8], [1991.3, 8.3], [1992, 8.4], [1993.5, 8.4], [1993.5, null],
  [1993.2, 5.4], [1994, 4.2], [1994.4, 3.8], [1995.5, 3.3], [1996.4, 2.8], [1997, 2.2], [1997.6, 1.7], [1998.4, 2.2],
  [1999.5, 2.1], [2000.5, 1.94], [2001.2, 1.85], [2002, 1.72], [2002.8, 1.45], [2003.3, 1.2], [2003.6, 0.89],
  [2004, 1.0], [2004.5, 1.02], [2005.5, 1.03], [2006.5, 1.06], [2007.3, 1.15], [2008, 1.3], [2008.5, 1.3],
  [2009, 1.06], [2010, 0.95]];
const kosugeTNTrend = [[1987.8, 1.0], [1990, 0.97], [1992, 0.92], [1995.6, 0.86], [1998, 0.9], [2000, 0.93],
  [2003, 0.96], [2005, 0.92], [2007, 0.88], [2009, 0.83], [2010, 0.81]];
const kosugeTPTrend = [[1985.8, 0.065], [1987, 0.068], [1989.4, 0.077], [1991.9, 0.075], [1994, 0.068],
  [1995.6, 0.062], [1997.5, 0.058], [1999.4, 0.055], [2001, 0.052], [2002, 0.048], [2002.9, 0.044], [2004, 0.044],
  [2005.9, 0.045], [2008, 0.046], [2010, 0.045]];

const FLOW = '#9999ff', PINK = '#ff99cc', GREY = '#969696';
const NAVY = '#000080', RED = '#ff0000', DARK = '#333333';
const SERIF = '"Liberation Serif", "Times New Roman", serif';

function sampled(values, start, perYear) {
  return values.map((v, i) => ({ x: start + i / perYear, y: v })).filter(p => p.y !== null);
}
function pairs(list) {
  return list.map(p => ({ x: p[0], y: p[1] }));
}

function dots(data, color, style, radius) {
  return { type: 'scatter', data, showLine: false, pointStyle: style, pointRadius: radius,
    pointBackgroundColor: color, pointBorderWidth: 0, clip: 5 };
}
function trend(data, color, width) {
  return { type: 'line', data: pairs(data), borderColor: color, borderWidth: width, pointRadius: 0,
    tension: 0, spanGaps: false, borderJoinStyle: 'miter', fill: false };
}

const framePlugin = {
  id: 'frame',
  afterDatasetsDraw(chart) {
    const { ctx, chartArea: a } = chart;
    ctx.save();
    ctx.strokeStyle = '#000';
    ctx.lineWidth = 2.5;
    ctx.strokeRect(a.left, a.top, a.right - a.left, a.bottom - a.top);
    ctx.restore();
  }
};

// label gaps come from invisible tick marks so the axis padding stays small
function makePanel(id, box, decades, datasets) {
  new Chart(document.getElementById(id), {
    type: 'scatter',
    data: { datasets },
    options: {
      responsive: false,
      animation: false,
      events: [],
      layout: { padding: { top: box.top, right: box.right, left: 0, bottom: 0 } },
      plugins: { legend: { display: false }, tooltip: { enabled: false } },
      scales: {
        x: {
          type: 'linear', min: 1971, max: 2010,
          afterBuildTicks: s => { s.ticks = yearTicks.map(v => ({ value: v })); },
          afterFit: s => { s.height = box.xAxis; },
          grid: { color: '#8a8a8a', lineWidth: 1, drawTicks: true, tickLength: 17, tickColor: 'rgba(0,0,0,0)' },
          border: { display: false },
          ticks: { minRotation: 90, maxRotation: 90, autoSkip: false, padding: 0, color: '#000',
                   font: { family: SERIF, size: 25 }, callback: v => String(v) }
        },
        y: {
          type: 'logarithmic', min: decades[0], max: 1000,
          afterBuildTicks: s => { s.ticks = decades.map(v => ({ value: v })); },
          afterFit: s => { s.width = box.yAxis; },
          grid: { color: '#444', lineWidth: 1, drawTicks: true, tickLength: 20, tickColor: 'rgba(0,0,0,0)' },
          border: { display: false },
          ticks: { padding: 0, color: '#000', font: { family: SERIF, size: 25 }, callback: v => String(v) }
        }
      }
    },
    plugins: [framePlugin]
  });
}

makePanel('c1', { top: 20, right: 13, yAxis: 81, xAxis: 80 }, decadesTop, [
  trend(katsuraFlowTrend, NAVY, 8),
  trend(katsuraBodTrend, RED, 8),
  dots(sampled(katsuraFlow, katsuraFlowStart, 8)
    .concat(sampled(katsuraFlowExtra, katsuraFlowExtraStart, 4)), FLOW, 'circle', 4),
  dots(sampled(katsuraBod, katsuraBodStart, 8)
    .concat(sampled(katsuraBodExtra, katsuraBodExtraStart, 4)), PINK, 'rectRot', 4)
]);

makePanel('c2', { top: 21, right: 17, yAxis: 80, xAxis: 87 }, decadesTop, [
  trend(kosugeFlowTrend, NAVY, 8),
  trend(kosugeBodTrend, RED, 8),
  dots(sampled(kosugeFlow, kosugeFlowStart, 6)
    .concat(sampled(kosugeFlowExtra, kosugeFlowExtraStart, 4)), FLOW, 'circle', 4),
  dots(sampled(kosugeBod, kosugeBodStart, 8), PINK, 'rectRot', 4)
]);

makePanel('c3', { top: 35, right: 12, yAxis: 93, xAxis: 68 }, decadesBottom, [
  trend(katsuraSSTrend, DARK, 7),
  trend(katsuraTNTrend, NAVY, 7),
  trend(katsuraTPTrend, RED, 7),
  dots(sampled(katsuraTN, katsuraTNStart, 6), FLOW, 'triangle', 4.5),
  dots(sampled(katsuraTP, katsuraTPStart, 6).concat(pairs(katsuraTPEarly)), PINK, 'rectRot', 4),
  dots(sampled(katsuraSS, katsuraSSStart, 8)
    .concat(sampled(katsuraSSExtra, katsuraSSExtraStart, 4)), GREY, 'circle', 4)
]);

makePanel('c4', { top: 31, right: 23, yAxis: 82, xAxis: 66 }, decadesBottom, [
  trend(kosugeSSTrend, DARK, 7),
  trend(kosugeTNTrend, NAVY, 7),
  trend(kosugeTPTrend, RED, 7),
  dots(sampled(kosugeTN, kosugeTNStart, 6), FLOW, 'triangle', 4.5),
  dots(sampled(kosugeTP, kosugeTPStart, 6), PINK, 'rectRot', 4),
  dots(sampled(kosugeSS, kosugeSSStart, 8)
    .concat(sampled(kosugeSSExtra, kosugeSSExtraStart, 4))
    .concat(pairs(kosugeSSEarly)), GREY, 'circle', 4)
]);
</script>
</body>
</html>
